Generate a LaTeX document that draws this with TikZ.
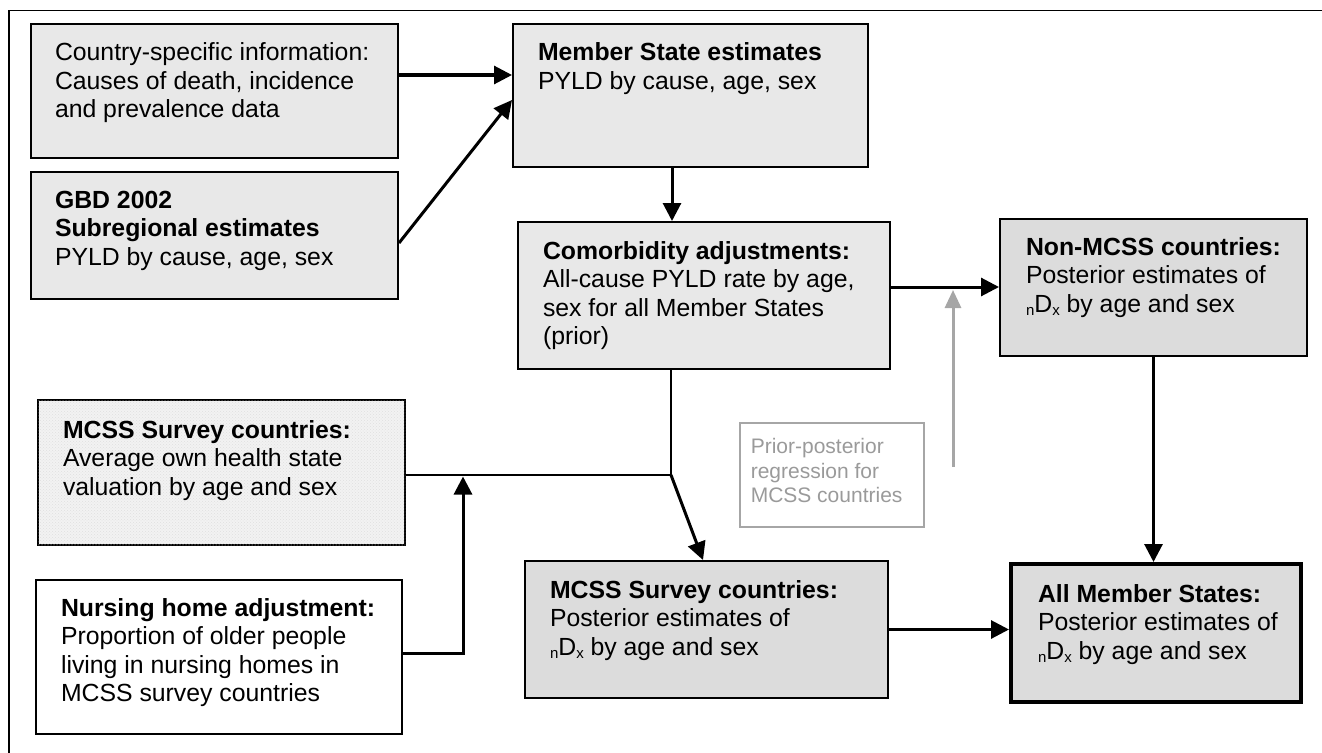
\documentclass[tikz,border=0pt]{standalone}
\usepackage{fontspec}
\setmainfont{Liberation Sans}
\usetikzlibrary{arrows.meta,patterns,calc}
\definecolor{fillA}{HTML}{E8E8E8}
\definecolor{fillB}{HTML}{DCDCDC}
\definecolor{fillC}{HTML}{F2F2F2}
\definecolor{greyline}{HTML}{A6A6A6}
\definecolor{greytext}{HTML}{9A9A9A}
\newcommand{\bt}[5]{\parbox[t][#2pt][t]{#1pt}{\raggedright\leftskip=#3pt\relax\rule{0pt}{#4pt}#5}}
\newcommand{\lowtxt}[1]{\raisebox{-3pt}{\fontsize{15}{15}\selectfont #1}}
\begin{document}
\begin{tikzpicture}[x=1pt,y=-1pt,
  box/.style={draw=black, line width=2pt, inner sep=0pt, anchor=north west,
              font=\fontsize{24.8}{28.5}\selectfont},
  boxA/.style={box, fill=fillA},
  boxB/.style={box, fill=fillB},
  boxW/.style={box, fill=white},
  boxS/.style={box, fill=fillC, postaction={pattern=crosshatch dots, pattern color=gray!25}},
  boxT/.style={boxB, line width=4pt},
  labelbox/.style={draw=greyline, line width=1.5pt, inner sep=0pt, anchor=north west,
              text=greytext, font=\fontsize{21}{24.5}\selectfont},
  arr/.style={line width=3pt, -{Triangle[length=18pt,width=18pt]}},
  greyarr/.style={line width=3pt, draw=greyline, -{Triangle[length=18pt,width=16pt]}},
  thinline/.style={line width=1.8pt}
]
\useasboundingbox (0,0) rectangle (1322,752);
\begin{scope}
  \clip (0,0) rectangle (1322,752);
  \draw[line width=1.8pt] (9,10.5) rectangle (1340,770);
\end{scope}

\node[boxA] (country) at (30,23) {\bt{367}{134}{24}{37}{Country-specific information:\\Causes of death, incidence\\and prevalence data}};
\node[boxA] (gbd) at (30,171) {\bt{367}{127}{24}{36}{\textbf{GBD 2002}\\\textbf{Subregional estimates}\\PYLD by cause, age, sex}};
\node[boxA] (member) at (512,23) {\bt{355}{143}{25}{37}{\textbf{Member State estimates}\\PYLD by cause, age, sex}};
\node[boxA] (comorb) at (517,221) {\bt{372}{147}{25}{37}{\textbf{Comorbidity adjustments:}\\All-cause PYLD rate by age,\\sex for all Member States\\(prior)}};
\node[boxB] (nonmcss) at (999,218) {\bt{307}{137}{26}{36}{\textbf{Non-MCSS countries:}\\Posterior estimates of\\\lowtxt{n}D\lowtxt{x} by age and sex}};
\node[boxS] (survey) at (37,399) {\bt{367}{145}{25}{38}{\textbf{MCSS Survey countries:}\\Average own health state\\valuation by age and sex}};
\node[boxW] (nursing) at (35,579) {\bt{366}{154}{25}{36}{\textbf{Nursing home adjustment:}\\Proportion of older people\\living in nursing homes in\\MCSS survey countries}};
\node[boxB] (post) at (524,560) {\bt{363}{137}{25}{37}{\textbf{MCSS Survey countries:}\\Posterior estimates of\\\lowtxt{n}D\lowtxt{x} by age and sex}};
\node[boxT] (allms) at (1009,562) {\bt{290}{138}{27}{38}{\textbf{All Member States:}\\Posterior estimates of\\\lowtxt{n}D\lowtxt{x} by age and sex}};
\node[labelbox] (label) at (739,422) {\bt{184}{104}{11}{31}{Prior-posterior\\regression for\\MCSS countries}};

% connectors
\draw[arr] ($(country.north east)+(0,52)$) -- ($(member.north west)+(0,52)$);
\draw[arr] ($(gbd.north east)+(0,72)$) -- ($(member.north west)+(0,77)$);
\draw[arr] ($(member.south west)+(160,0)$) -- ($(comorb.north west)+(155,0)$);
\coordinate (H) at ($(comorb.north east)+(0,66)$);
\draw[arr] (H) -- (H -| nonmcss.west);
\coordinate (J) at ($(comorb.south west)+(154,105)$);
\draw[thinline] ($(comorb.south west)+(154,0)$) -- (J);
\draw[thinline] (J -| survey.east) -- (J);
\draw[arr] (J) -- ($(post.north west)+(179,0)$);
\coordinate (K) at ($(nursing.north east)+(60,74)$);
\draw[arr] (K -| nursing.east) -- (K) -- ($(K |- J)+(0,1.5)$);
\coordinate (G) at (953,467);
\draw[greyarr] (G) -- ($(G |- H)+(0,3)$);
\draw[arr] (nonmcss.south) -- (nonmcss.south |- allms.north);
\draw[arr] (post.east) -- (post.east -| allms.west);
\end{tikzpicture}
\end{document}
